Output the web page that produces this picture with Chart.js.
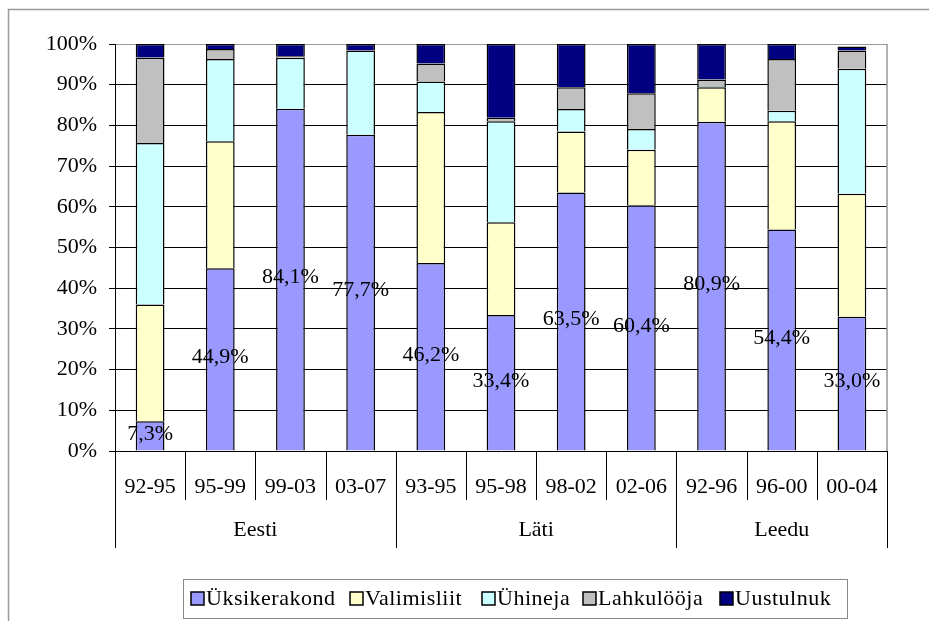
<!DOCTYPE html>
<html>
<head>
<meta charset="utf-8">
<script src="https://cdn.jsdelivr.net/npm/chart.js@4.4.0/dist/chart.umd.min.js"></script>
<style>
  body { margin: 0; background: #fff; }
  canvas { display: block; }
</style>
</head>
<body>
<canvas id="chart" width="929" height="621"></canvas>
<script>
var periods = ['92-95', '95-99', '99-03', '03-07', '93-95', '95-98', '98-02', '02-06', '92-96', '96-00', '00-04'];
var countries = ['Eesti', 'Läti', 'Leedu'];
var countrySizes = [4, 4, 3];

var uksikerakond = [7.3, 44.9, 84.1, 77.7, 46.2, 33.4, 63.5, 60.4, 80.9, 54.4, 33.0];
var valimisliit  = [28.7, 31.2, 0.0, 0.0, 37.1, 22.8, 15.0, 13.6, 8.5, 26.6, 30.2];
var uhineja      = [39.7, 20.2, 12.5, 20.7, 7.5, 24.8, 5.5, 5.1, 0.3, 2.6, 30.7];
var lahkulooja   = [21.0, 2.5, 0.4, 0.0, 4.4, 0.9, 5.4, 8.8, 1.6, 12.7, 4.5];
var uustulnuk    = [3.3, 1.2, 3.0, 1.6, 4.8, 18.1, 10.6, 12.1, 8.7, 3.7, 1.0];

var FAMILY = '"Liberation Serif", "Times New Roman", serif';
var FONT = '22px ' + FAMILY;

function ds(label, data, color) {
  return { label: label, data: data, backgroundColor: color, borderColor: '#000', borderWidth: 1.5,
           barPercentage: 0.41, categoryPercentage: 1.0 };
}

var extras = {
  id: 'extras',
  beforeDraw: function(chart) {
    var c = chart.ctx;
    c.save();
    c.fillStyle = '#fff';
    c.fillRect(0, 0, chart.width, chart.height);
    c.strokeStyle = '#999';
    c.lineWidth = 1.5;
    c.beginPath();
    c.moveTo(8.5, chart.height); c.lineTo(8.5, 9.5); c.lineTo(chart.width, 9.5);
    c.stroke();
    c.restore();
  },
  afterDraw: function(chart) {
    var c = chart.ctx, area = chart.chartArea, x = chart.scales.x;
    c.save();
    // plot area right border
    c.strokeStyle = '#999'; c.lineWidth = 1.5;
    c.beginPath(); c.moveTo(area.right, area.top); c.lineTo(area.right, area.bottom); c.stroke();

    // category separators
    var step = (area.right - area.left) / periods.length;
    c.strokeStyle = '#000'; c.lineWidth = 1;
    var bounds = [0];
    countrySizes.reduce(function(a, n) { bounds.push(a + n); return a + n; }, 0);
    for (var i = 0; i <= periods.length; i++) {
      var px = Math.round(area.left + i * step) + 0.5;
      var long = bounds.indexOf(i) >= 0;
      c.beginPath(); c.moveTo(px, area.bottom); c.lineTo(px, long ? 548 : 500); c.stroke();
    }
    // period labels
    c.font = FONT; c.fillStyle = '#000'; c.textAlign = 'center'; c.textBaseline = 'middle';
    periods.forEach(function(p, i) { c.fillText(p, x.getPixelForValue(i), 487); });
    // country labels
    countries.forEach(function(name, k) {
      var l = area.left + bounds[k] * step, r = area.left + bounds[k + 1] * step;
      c.fillText(name, (l + r) / 2, 530);
    });

    // data labels for Üksikerakond
    var meta = chart.getDatasetMeta(0);
    meta.data.forEach(function(bar, i) {
      var txt = uksikerakond[i].toFixed(1).replace('.', ',') + '%';
      c.fillText(txt, bar.x, (bar.y + bar.base) / 2 - 2);
    });

    // legend
    c.strokeStyle = '#888'; c.lineWidth = 1;
    c.strokeRect(183.5, 579.5, 664, 39);
    var lx = [191, 350, 482, 583, 720];
    c.textAlign = 'left';
    c.letterSpacing = '0.5px';
    chart.data.datasets.forEach(function(d, j) {
      c.fillStyle = d.backgroundColor;
      c.fillRect(lx[j], 592, 13, 13);
      c.strokeStyle = '#000'; c.lineWidth = 1.5;
      c.strokeRect(lx[j], 592, 13, 13);
      c.fillStyle = '#000';
      c.fillText(d.label, lx[j] + 15, 599);
    });
    c.restore();
  }
};

function draw() {
  new Chart(document.getElementById('chart'), {
    type: 'bar',
    data: {
      labels: periods,
      datasets: [
        ds('Üksikerakond', uksikerakond, '#9999FF'),
        ds('Valimisliit', valimisliit, '#FFFFCC'),
        ds('Ühineja', uhineja, '#CCFFFF'),
        ds('Lahkulööja', lahkulooja, '#C0C0C0'),
        ds('Uustulnuk', uustulnuk, '#000080')
      ]
    },
    options: {
      responsive: false,
      animation: false,
      layout: { padding: { top: 44, right: 42, bottom: 170, left: 0 } },
      plugins: { legend: { display: false }, tooltip: { enabled: false } },
      scales: {
        x: { stacked: true, display: false },
        y: {
          stacked: true, min: 0, max: 100,
          afterFit: function(s) { s.width = 115; },
          border: { color: '#000', width: 1 },
          grid: {
            color: function(ctx) { return ctx.tick && ctx.tick.value === 100 ? '#999' : '#000'; },
            lineWidth: 1, tickLength: 6, tickColor: '#000'
          },
          ticks: {
            stepSize: 10, padding: 12, color: '#000',
            font: { family: FAMILY, size: 22 },
            callback: function(v) { return v + '%'; }
          }
        }
      }
    },
    plugins: [extras]
  });
}

document.fonts.load(FONT).then(draw, draw);
</script>
</body>
</html>
